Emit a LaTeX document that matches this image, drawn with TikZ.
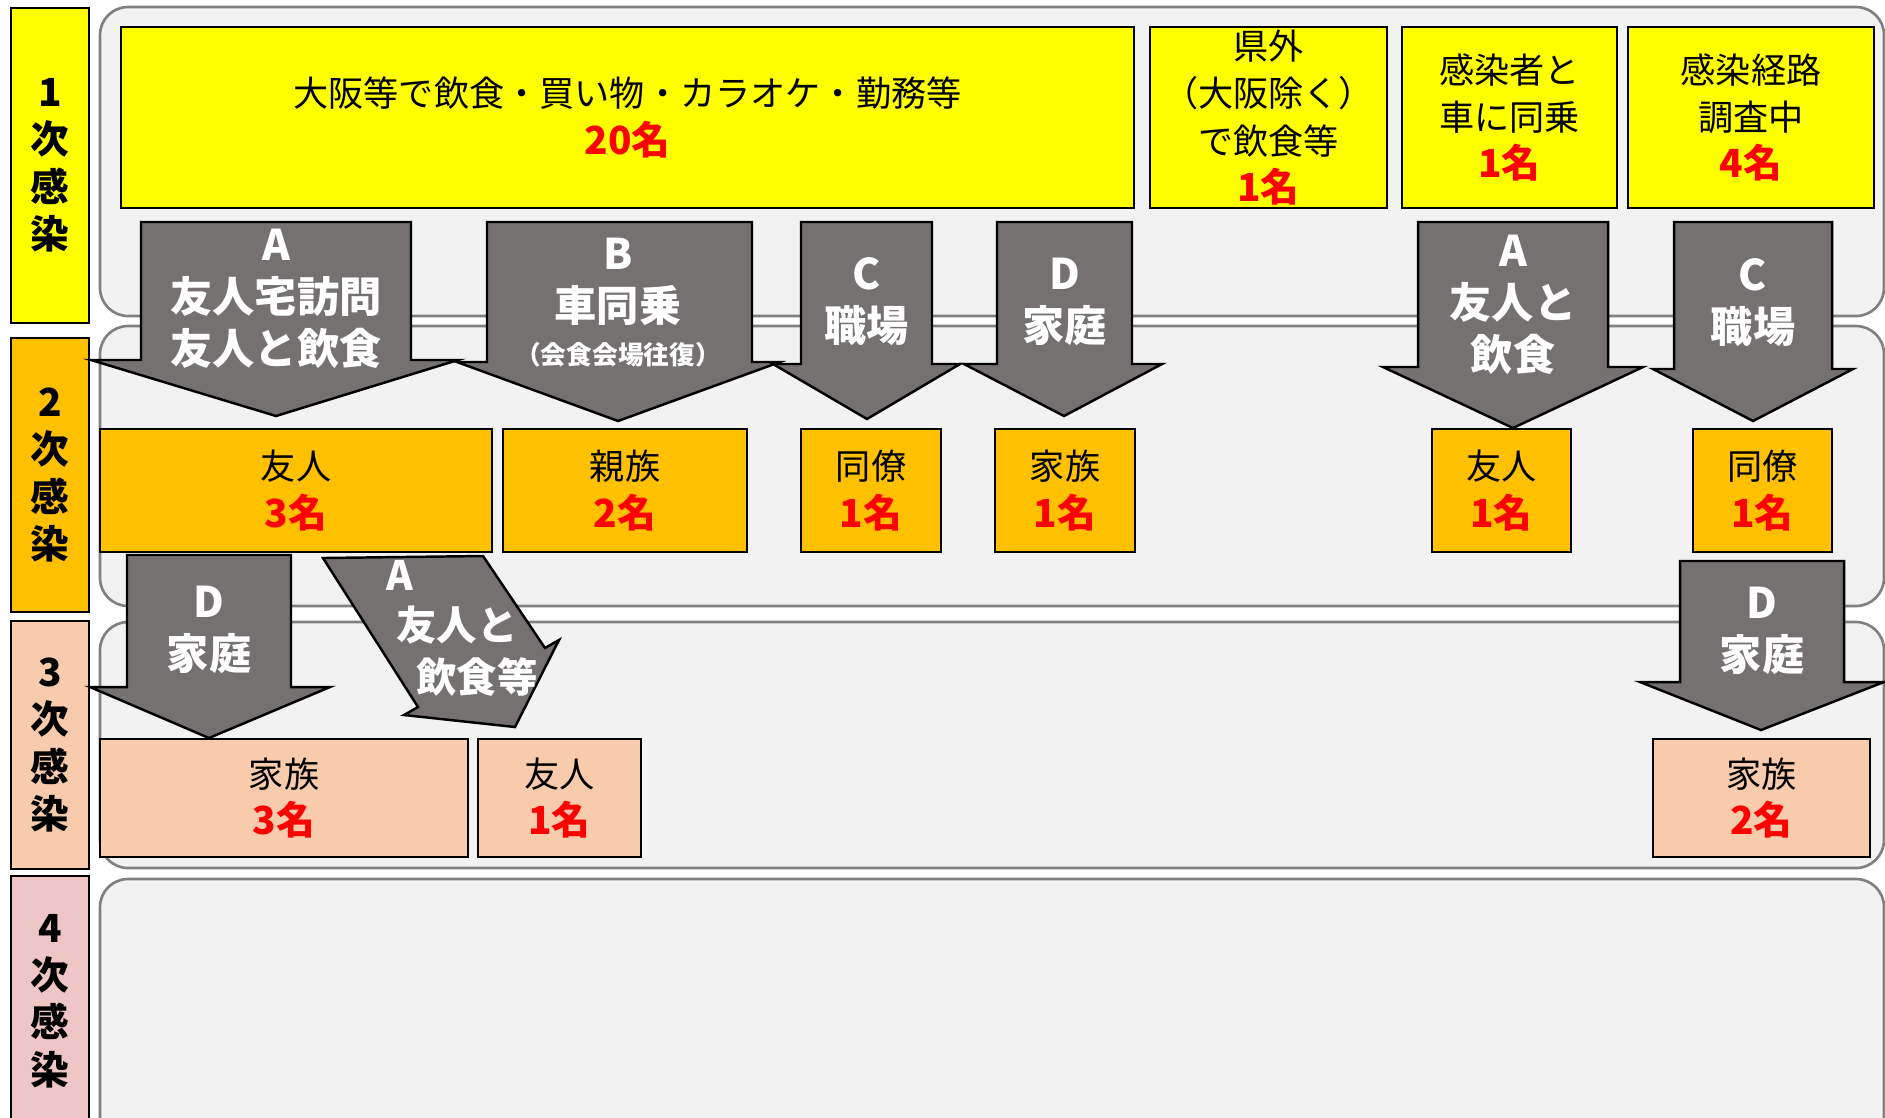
\documentclass[tikz,border=0pt]{standalone}
\usepackage{fontspec}
\newfontfamily\jp{Noto Sans CJK JP}
\definecolor{ylw}{HTML}{FFFF00}
\definecolor{org}{HTML}{FFC000}
\definecolor{pch}{HTML}{F8CBAD}
\definecolor{pnk}{HTML}{EFC6C6}
\definecolor{arrgray}{HTML}{767171}
\definecolor{panelfill}{HTML}{F2F2F2}
\definecolor{panelgray}{HTML}{808080}
\definecolor{rd}{HTML}{FF0000}
\newcommand\redn[1]{{\color{rd}\bfseries\fontsize{11pt}{13.4pt}\selectfont #1}}
\begin{document}
\begin{tikzpicture}[x=0.01cm,y=-0.01cm,
  panel/.style={draw=panelgray, line width=0.75pt, fill=panelfill, rounded corners=0.28cm},
  lbl/.style={draw=black, line width=0.6pt, inner sep=0pt, align=center, minimum width=0.78cm,
    font=\jp\bfseries\fontsize{11pt}{13.5pt}\selectfont},
  box/.style={draw=black, line width=0.6pt, inner sep=0pt, align=center,
    font=\jp\fontsize{10pt}{13.4pt}\selectfont},
  arr/.style={draw=black, line width=0.7pt, fill=arrgray, line join=miter},
  arrtxt/.style={text=white, inner sep=0pt, align=center,
    font=\jp\bfseries\fontsize{12pt}{14.8pt}\selectfont},
  slanttxt/.style={text=white, inner sep=0pt,
    font=\jp\bfseries\fontsize{11.5pt}{14pt}\selectfont}
]
\useasboundingbox (0,0) rectangle (1885,1117);
\clip (0,0) rectangle (1885,1117);
\fill[white] (0,0) rectangle (1885,1117);

% background panels
\draw[panel] (100,7) rectangle (1884,316);
\draw[panel] (100,326) rectangle (1884,606);
\draw[panel] (100,622) rectangle (1884,868);
\draw[panel] (100,879) rectangle (1884,1170);

% stage labels
\node[lbl, fill=ylw, minimum height=3.15cm] (L1) at (50,165.5) {1\\次\\感\\染};
\node[lbl, fill=org, minimum height=2.74cm] (L2) at (50,475) {2\\次\\感\\染};
\node[lbl, fill=pch, minimum height=2.48cm] (L3) at (50,745) {3\\次\\感\\染};
\node[lbl, fill=pnk, minimum height=2.50cm] (L4) at (50,1001) {4\\次\\感\\染};

% row 1 boxes
\node[box, fill=ylw, minimum width=10.13cm, minimum height=1.81cm] (b1) at (627.5,117.5)
  {大阪等で飲食・買い物・カラオケ・勤務等\\\redn{20名}};
\node[box, fill=ylw, minimum width=2.37cm, minimum height=1.81cm] (b2) at (1268.5,117.5)
  {県外\\（大阪除く）\\で飲食等\\\redn{1名}};
\node[box, fill=ylw, minimum width=2.15cm, minimum height=1.81cm] (b3) at (1509.5,117.5)
  {感染者と\\車に同乗\\\redn{1名}};
\node[box, fill=ylw, minimum width=2.46cm, minimum height=1.81cm] (b4) at (1751,117.5)
  {感染経路\\調査中\\\redn{4名}};

% row 2 boxes
\node[box, fill=org, minimum width=3.92cm, minimum height=1.23cm] (r1) at (296,490.5) {友人\\\redn{3名}};
\node[box, fill=org, minimum width=2.44cm, minimum height=1.23cm] (r2) at (625,490.5) {親族\\\redn{2名}};
\node[box, fill=org, minimum width=1.40cm, minimum height=1.23cm] (r3) at (871,490.5) {同僚\\\redn{1名}};
\node[box, fill=org, minimum width=1.40cm, minimum height=1.23cm] (r4) at (1065,490.5) {家族\\\redn{1名}};
\node[box, fill=org, minimum width=1.39cm, minimum height=1.23cm] (r5) at (1501.5,490.5) {友人\\\redn{1名}};
\node[box, fill=org, minimum width=1.39cm, minimum height=1.23cm] (r6) at (1762.5,490.5) {同僚\\\redn{1名}};

% row 3 boxes
\node[box, fill=pch, minimum width=3.68cm, minimum height=1.18cm] (s1) at (284,798) {家族\\\redn{3名}};
\node[box, fill=pch, minimum width=1.63cm, minimum height=1.18cm] (s2) at (559.5,798) {友人\\\redn{1名}};
\node[box, fill=pch, minimum width=2.17cm, minimum height=1.18cm] (s3) at (1761.5,798) {家族\\\redn{2名}};

% row 1 arrows
\draw[arr] (141,222) -- (411,222) -- (411,360) -- (458,360) -- (276,416) -- (91,360) -- (141,360) -- cycle;
\draw[arr] (487,222) -- (752,222) -- (752,362) -- (780,362) -- (618,421) -- (457,362) -- (487,362) -- cycle;
\draw[arr] (801,222) -- (932,222) -- (932,364) -- (960,364) -- (867,419) -- (773,364) -- (801,364) -- cycle;
\draw[arr] (997,222) -- (1132,222) -- (1132,364) -- (1162,364) -- (1064,416) -- (964,364) -- (997,364) -- cycle;
\draw[arr] (1418,222) -- (1608,222) -- (1608,367) -- (1643,367) -- (1513,428) -- (1383,367) -- (1418,367) -- cycle;
\draw[arr] (1674,222) -- (1832,222) -- (1832,369) -- (1853,369) -- (1753,421) -- (1653,369) -- (1674,369) -- cycle;

\node[arrtxt] (tA1) at (276,299) {A\\友人宅訪問\\友人と飲食};
\node[arrtxt] (tB1) at (618,303) {B\\車同乗\\[-2.6pt]{\fontsize{7.3pt}{9pt}\selectfont （会食会場往復）}};
\node[arrtxt] (tC1) at (866.5,302) {C\\職場};
\node[arrtxt] (tD1) at (1064.5,302) {D\\家庭};
\node[arrtxt] (tA2) at (1513,305) {A\\友人と\\飲食};
\node[arrtxt] (tC2) at (1753,303) {C\\職場};

% row 3 arrows
\draw[arr] (127,555) -- (291,555) -- (291,687) -- (330,687) -- (209,738) -- (90,687) -- (127,687) -- cycle;
\draw[arr] (323,558) -- (483,556) -- (545,648) -- (559,640) -- (515,727) -- (404,715) -- (418,707) -- cycle;
\draw[arr] (1680,561) -- (1844,561) -- (1844,682) -- (1884,682) -- (1761,730) -- (1640,682) -- (1680,682) -- cycle;

\node[arrtxt] (tD2) at (209,630) {D\\家庭};
\node[arrtxt] (tD3) at (1762,631) {D\\家庭};
\node[slanttxt] (tA3a) at (400,575) {A};
\node[slanttxt] (tA3b) at (457,625) {友人と};
\node[slanttxt] (tA3c) at (477,677) {飲食等};
\end{tikzpicture}
\end{document}
